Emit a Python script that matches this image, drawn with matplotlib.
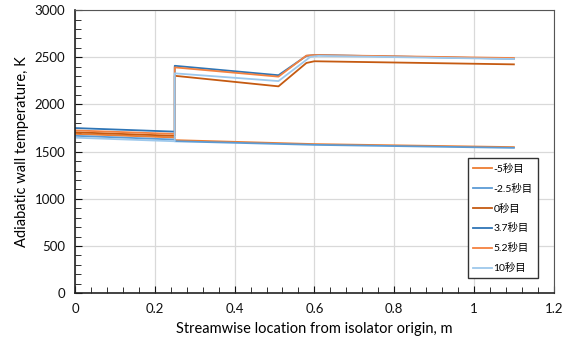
import matplotlib
matplotlib.use("Agg")
import matplotlib.pyplot as plt
from matplotlib.ticker import MultipleLocator

plt.rcParams['font.family'] = ['Lato', 'Noto Sans CJK JP', 'DejaVu Sans']

labels = ["-5秒目", "-2.5秒目", "0秒目", "3.7秒目", "5.2秒目", "10秒目"]
colors = ["#ED7D31", "#5B9BD5", "#C55A11", "#2E75B6", "#F4813F", "#9DC8EC"]
xticks = [0, 0.2, 0.4, 0.6, 0.8, 1.0, 1.2]
xticklabels = ["0", "0.2", "0.4", "0.6", "0.8", "1", "1.2"]

# lines that drop at the isolator step
x_low = [0, 0.25, 0.25, 0.6, 1.1]
t_m5 = [1688, 1650, 1622, 1580, 1548]
t_m2 = [1668, 1628, 1610, 1572, 1540]

# lines that jump up at the step
x_up = [0, 0.25, 0.25, 0.51, 0.58, 0.6, 1.1]
x_up10 = [0, 0.25, 0.25, 0.51, 0.59, 0.61, 1.1]
t_0 = [1705, 1668, 2304, 2192, 2440, 2458, 2425]
t_37 = [1750, 1712, 2410, 2310, 2515, 2524, 2485]
t_52 = [1725, 1688, 2393, 2295, 2518, 2524, 2492]
t_10 = [1648, 1610, 2330, 2248, 2505, 2515, 2482]

fig = plt.figure(figsize=(5.68, 3.49), dpi=100)
ax = fig.add_axes([0.132, 0.160, 0.843, 0.811])

ax.plot(x_low, t_m5, c=colors[0], lw=1.3, label=labels[0])
ax.plot(x_low, t_m2, c=colors[1], lw=1.3, label=labels[1])
ax.plot(x_up, t_0, c=colors[2], lw=1.3, label=labels[2])
ax.plot(x_up, t_37, c=colors[3], lw=1.3, label=labels[3])
ax.plot(x_up, t_52, c=colors[4], lw=1.3, label=labels[4])
ax.plot(x_up10, t_10, c=colors[5], lw=1.3, label=labels[5])

ax.set_xlim(0, 1.2)
ax.set_ylim(0, 3000)
ax.set_xticks(xticks)
ax.set_xticklabels(xticklabels)
ax.xaxis.set_minor_locator(MultipleLocator(0.04))
ax.yaxis.set_major_locator(MultipleLocator(500))
ax.yaxis.set_minor_locator(MultipleLocator(100))
ax.tick_params(which='both', direction='in', top=False, right=False,
               labelsize=9.5, colors='#111111', pad=7)
ax.tick_params(which='major', length=5)
ax.tick_params(which='minor', length=4)
ax.grid(True, which='major', color='#d9d9d9', lw=0.9)
ax.set_axisbelow(True)
for s in ['top', 'right']:
    ax.spines[s].set_color('#555555')
for s in ['left', 'bottom']:
    ax.spines[s].set_color('#222222')
    ax.spines[s].set_linewidth(1.2)

ax.set_xlabel("Streamwise location from isolator origin, m", fontsize=10.5, labelpad=5)
ax.set_ylabel("Adiabatic wall temperature, K", fontsize=10.5, labelpad=4)

leg = ax.legend(loc='lower right', bbox_to_anchor=(0.967, 0.052), borderaxespad=0,
                fontsize=7.5, fancybox=False, edgecolor='#333333', framealpha=1,
                handlelength=1.8, handletextpad=0.2, labelspacing=0.95,
                borderpad=0.5)
leg.get_frame().set_linewidth(1.0)

fig.savefig("out.png", dpi=100)
